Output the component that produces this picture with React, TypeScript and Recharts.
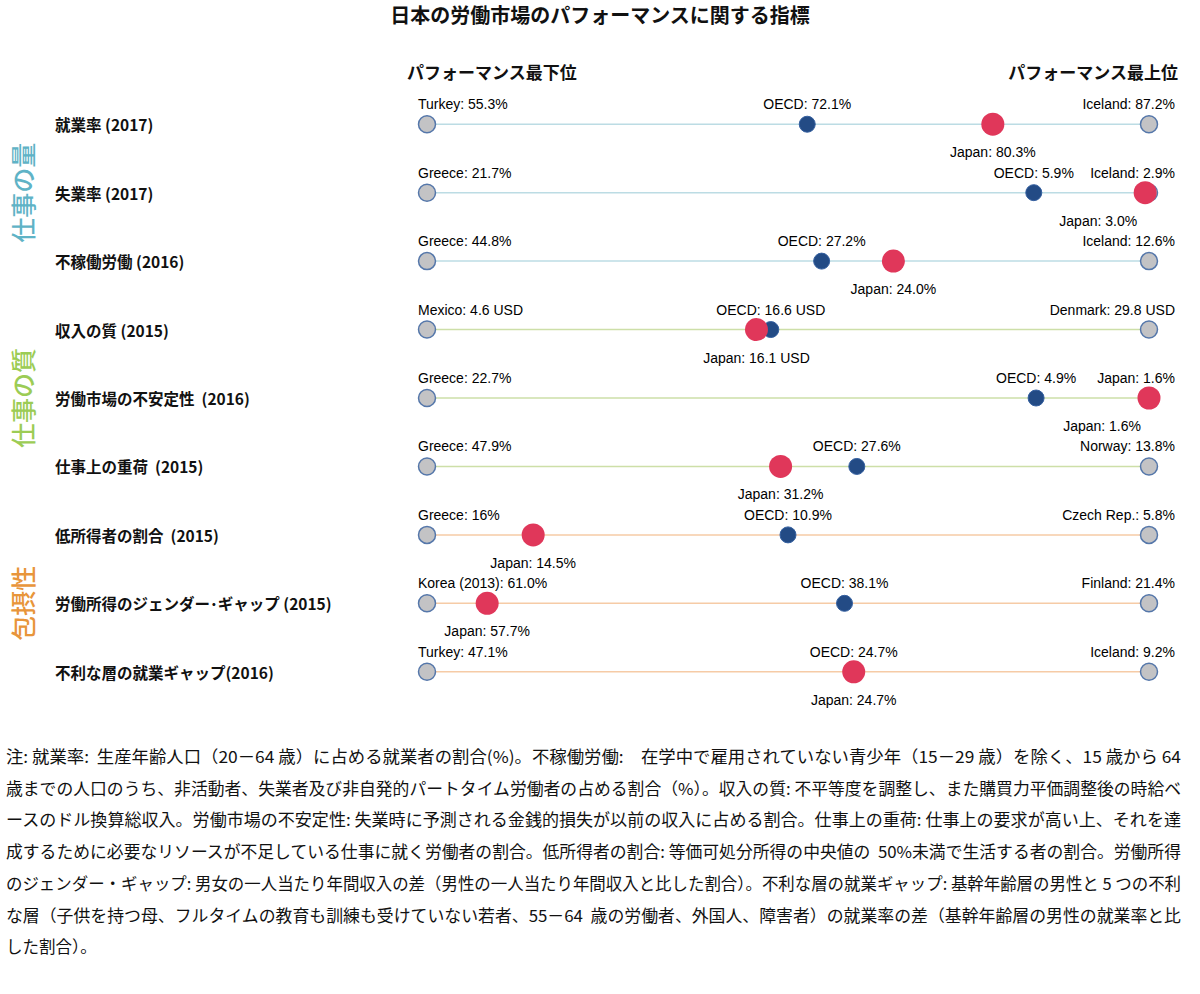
import React from 'react';
import { ScatterChart, Scatter, XAxis, YAxis, ReferenceLine } from 'recharts';

// 行（指標）
const rowLabels = [
  '就業率 (2017)',
  '失業率 (2017)',
  '不稼働労働 (2016)',
  '収入の質 (2015)',
  '労働市場の不安定性  (2016)',
  '仕事上の重荷  (2015)',
  '低所得者の割合  (2015)',
  '労働所得のジェンダー･ギャップ (2015)',
  '不利な層の就業ギャップ(2016)',
];

// グループ（3行ずつ）
const groupNames = ['仕事の量', '仕事の質', '包摂性'];
const groupColors = ['#5fb3c6', '#9ccc55', '#e8953a'];
const lineColors = ['#bcdce4', '#cddfa8', '#f6cba6'];

// 最下位・最上位・OECD・日本の値
const worstValues = [55.3, 21.7, 44.8, 4.6, 22.7, 47.9, 16, 61.0, 47.1];
const bestValues = [87.2, 2.9, 12.6, 29.8, 1.6, 13.8, 5.8, 21.4, 9.2];
const oecdValues = [72.1, 5.9, 27.2, 16.6, 4.9, 27.6, 10.9, 38.1, 24.7];
const japanValues = [80.3, 3.0, 24.0, 16.1, 1.6, 31.2, 14.5, 57.7, 24.7];

const worstLabels = [
  'Turkey: 55.3%', 'Greece: 21.7%', 'Greece: 44.8%', 'Mexico: 4.6 USD', 'Greece: 22.7%',
  'Greece: 47.9%', 'Greece: 16%', 'Korea (2013): 61.0%', 'Turkey: 47.1%',
];
const bestLabels = [
  'Iceland: 87.2%', 'Iceland: 2.9%', 'Iceland: 12.6%', 'Denmark: 29.8 USD', 'Japan: 1.6%',
  'Norway: 13.8%', 'Czech Rep.: 5.8%', 'Finland: 21.4%', 'Iceland: 9.2%',
];
const oecdLabels = [
  'OECD: 72.1%', 'OECD: 5.9%', 'OECD: 27.2%', 'OECD: 16.6 USD', 'OECD: 4.9%',
  'OECD: 27.6%', 'OECD: 10.9%', 'OECD: 38.1%', 'OECD: 24.7%',
];
const japanLabels = [
  'Japan: 80.3%', 'Japan: 3.0%', 'Japan: 24.0%', 'Japan: 16.1 USD', 'Japan: 1.6%',
  'Japan: 31.2%', 'Japan: 14.5%', 'Japan: 57.7%', 'Japan: 24.7%',
];

const notes = [
  '注: 就業率:  生産年齢人口（20－64 歳）に占める就業者の割合(%)。不稼働労働:　在学中で雇用されていない青少年（15－29 歳）を除く、15 歳から 64',
  '歳までの人口のうち、非活動者、失業者及び非自発的パートタイム労働者の占める割合（%）。収入の質: 不平等度を調整し、また購買力平価調整後の時給ベ',
  'ースのドル換算総収入。労働市場の不安定性: 失業時に予測される金銭的損失が以前の収入に占める割合。仕事上の重荷: 仕事上の要求が高い上、それを達',
  '成するために必要なリソースが不足している仕事に就く労働者の割合。低所得者の割合: 等価可処分所得の中央値の  50%未満で生活する者の割合。労働所得',
  'のジェンダー・ギャップ: 男女の一人当たり年間収入の差（男性の一人当たり年間収入と比した割合）。不利な層の就業ギャップ: 基幹年齢層の男性と 5 つの不利',
  'な層（子供を持つ母、フルタイムの教育も訓練も受けていない若者、55－64  歳の労働者、外国人、障害者）の就業率の差（基幹年齢層の男性の就業率と比',
  'した割合）。',
];

// 最下位=0, 最上位=1 に正規化
const norm = (v: number, i: number) => (v - worstValues[i]) / (bestValues[i] - worstValues[i]);

const worstData = rowLabels.map((row, i) => ({ row, x: 0, text: worstLabels[i] }));
const bestData = rowLabels.map((row, i) => ({ row, x: 1, text: bestLabels[i] }));
const oecdData = rowLabels.map((row, i) => ({ row, x: norm(oecdValues[i], i), text: oecdLabels[i] }));
const japanData = rowLabels.map((row, i) => ({ row, x: norm(japanValues[i], i), text: japanLabels[i] }));

const LABEL_FONT = "'Liberation Sans Narrow', 'Arial Narrow', 'Liberation Sans', sans-serif";
const JP_FONT = "'Noto Sans CJK JP', 'Noto Sans', sans-serif";

const WorstDot = (props: any) => {
  const { cx, cy, payload } = props;
  return (
    <g>
      <circle cx={cx} cy={cy} r={8.5} fill="#c3c3c5" stroke="#5577aa" strokeWidth={1.5} />
      <text x={cx - 9} y={cy - 15} fontSize={14} fontFamily={LABEL_FONT} fill="#000">{payload.text}</text>
    </g>
  );
};

const BestDot = (props: any) => {
  const { cx, cy, payload } = props;
  return (
    <g>
      <text x={cx + 26} y={cy - 15} textAnchor="end" fontSize={14} fontFamily={LABEL_FONT} fill="#000">{payload.text}</text>
      <circle cx={cx} cy={cy} r={8.5} fill="#c3c3c5" stroke="#5577aa" strokeWidth={1.5} />
    </g>
  );
};

const OecdDot = (props: any) => {
  const { cx, cy, payload } = props;
  return (
    <g>
      <circle cx={cx} cy={cy} r={8} fill="#234b85" stroke="#3560a0" strokeWidth={1} />
      <text x={cx} y={cy - 15} textAnchor="middle" fontSize={14} fontFamily={LABEL_FONT} fill="#000">{payload.text}</text>
    </g>
  );
};

const JapanDot = (props: any) => {
  const { cx, cy, payload } = props;
  const nearEnd = payload.x > 0.95;
  return (
    <g>
      <circle cx={cx} cy={cy} r={11.5} fill="#e0375a" />
      <text x={nearEnd ? cx - 8 : cx} y={cy + 33} textAnchor={nearEnd ? 'end' : 'middle'} fontSize={14} fontFamily={LABEL_FONT} fill="#000">{payload.text}</text>
    </g>
  );
};

const RowTick = (props: any) => {
  const { y, payload } = props;
  const idx = rowLabels.indexOf(payload.value);
  const g = Math.floor(idx / 3);
  return (
    <g>
      <text x={55} y={y} dominantBaseline="central" fontSize={15.5} fontWeight={700} fontFamily={JP_FONT} fill="#111" style={{ whiteSpace: 'pre' }}>
        {payload.value}
      </text>
      {idx % 3 === 1 && (
        <text
          x={22}
          y={y}
          transform={`rotate(-90 22 ${y})`}
          textAnchor="middle"
          dominantBaseline="central"
          fontSize={25}
          fontWeight={500}
          fontFamily={JP_FONT}
          fill={groupColors[g]}
        >
          {groupNames[g]}
        </text>
      )}
    </g>
  );
};

export default function App() {
  return (
    <div style={{ position: 'absolute', left: 0, top: 0, width: 1200, height: 994, background: '#fff', fontFamily: JP_FONT, color: '#111' }}>
      <div style={{ position: 'absolute', left: 0, width: 1200, top: 3, textAlign: 'center', fontSize: 20, fontWeight: 700, lineHeight: '24px' }}>
        日本の労働市場のパフォーマンスに関する指標
      </div>
      <div style={{ position: 'absolute', left: 407, top: 61, fontSize: 17, fontWeight: 700, lineHeight: '22px' }}>
        パフォーマンス最下位
      </div>
      <div style={{ position: 'absolute', right: 22, top: 61, fontSize: 17, fontWeight: 700, lineHeight: '22px' }}>
        パフォーマンス最上位
      </div>
      <div style={{ position: 'absolute', left: 0, top: 0 }}>
        <ScatterChart width={1200} height={720} margin={{ top: 90, right: 51, bottom: 14, left: 0 }}>
          <XAxis type="number" dataKey="x" domain={[0, 1]} hide />
          <YAxis
            type="category"
            dataKey="row"
            width={427}
            reversed
            allowDuplicatedCategory={false}
            axisLine={false}
            tickLine={false}
            tick={<RowTick />}
          />
          {rowLabels.map((row, i) => (
            <ReferenceLine key={row} y={row} stroke={lineColors[Math.floor(i / 3)]} strokeWidth={1.5} />
          ))}
          <Scatter data={worstData} shape={<WorstDot />} isAnimationActive={false} />
          <Scatter data={bestData} shape={<BestDot />} isAnimationActive={false} />
          <Scatter data={oecdData} shape={<OecdDot />} isAnimationActive={false} />
          <Scatter data={japanData} shape={<JapanDot />} isAnimationActive={false} />
        </ScatterChart>
      </div>
      <svg width={1200} height={280} style={{ position: 'absolute', left: 0, top: 730 }}>
        {notes.map((line, i) => (
          <text
            key={i}
            x={6}
            y={33 + i * 31.7}
            fontSize={16.5}
            fontFamily={JP_FONT}
            fill="#111"
            textLength={i < notes.length - 1 ? 1175 : undefined}
            lengthAdjust="spacingAndGlyphs"
            style={{ whiteSpace: 'pre' }}
          >
            {line}
          </text>
        ))}
      </svg>
    </div>
  );
}
